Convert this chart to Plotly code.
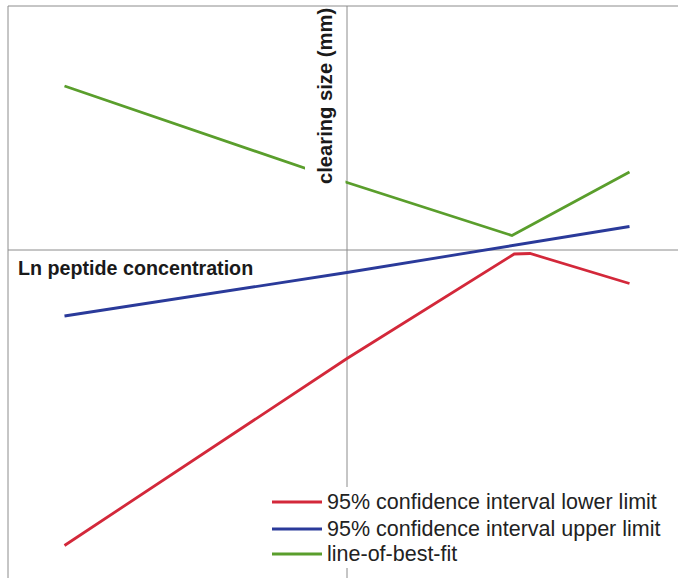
import plotly.graph_objects as go

# ---- data ----
series_names = ["95% confidence interval lower limit",
                "95% confidence interval upper limit",
                "line-of-best-fit"]
series_colors = ["#d3283a", "#2a3a9a", "#5a9e2c"]

x_lower = [-2.5, 0.0, 1.48, 1.62, 2.5]
y_lower = [-5.91, -2.17, -0.08, -0.07, -0.67]

x_upper = [-2.5, 0.0, 2.5]
y_upper = [-1.32, -0.45, 0.47]

x_fit = [-2.5, 0.0, 1.46, 2.5]
y_fit = [3.28, 1.35, 0.29, 1.56]

x_title = "Ln peptide concentration"
y_title = "clearing size (mm)"

# ---- layout helpers ----
W, H = 678, 578
X0_PX, PX_PER_X = 347, 113.0
Y0_PX, PX_PER_Y = 250, 50.0
x_range = [(0 - X0_PX) / PX_PER_X, (W - X0_PX) / PX_PER_X]
y_range = [(Y0_PX - H) / PX_PER_Y, Y0_PX / PX_PER_Y]


def px(x):
    return x / W


def py(y):
    return 1 - y / H


fig = go.Figure()
for xs, ys, name, col in zip([x_lower, x_upper, x_fit],
                             [y_lower, y_upper, y_fit],
                             series_names, series_colors):
    fig.add_trace(go.Scatter(x=xs, y=ys, mode="lines", name=name,
                             line=dict(color=col, width=2.8),
                             showlegend=False))

axis_col = "#8c8c8c"
shapes = [
    # frame (top and left; right/bottom fall outside the picture)
    dict(type="line", xref="paper", yref="paper", x0=px(8), x1=1, y0=py(6), y1=py(6),
         line=dict(color=axis_col, width=1), layer="below"),
    dict(type="line", xref="paper", yref="paper", x0=px(8), x1=px(8), y0=0, y1=py(6),
         line=dict(color=axis_col, width=1), layer="below"),
    # axes through origin
    dict(type="line", xref="x", yref="paper", x0=0, x1=0, y0=0, y1=py(6),
         line=dict(color=axis_col, width=1), layer="below"),
    dict(type="line", xref="paper", yref="y", x0=px(8), x1=1, y0=0, y1=0,
         line=dict(color=axis_col, width=1), layer="below"),
    # white box behind the y-axis title
    dict(type="rect", xref="paper", yref="paper", x0=px(305), x1=px(345.5),
         y0=py(190), y1=py(150), fillcolor="white", line=dict(width=0), layer="above"),
    # legend background
    dict(type="rect", xref="paper", yref="paper", x0=px(265), x1=px(672),
         y0=py(568), y1=py(487), fillcolor="white", line=dict(width=0), layer="above"),
]

legend_rows = [502, 529, 554]
annotations = []
for name, col, row in zip(series_names, series_colors, legend_rows):
    shapes.append(dict(type="line", xref="paper", yref="paper", x0=px(272), x1=px(322),
                       y0=py(row), y1=py(row), line=dict(color=col, width=3), layer="above"))
    annotations.append(dict(xref="paper", yref="paper", x=px(325), y=py(row - 0.5),
                            xanchor="left", yanchor="middle", showarrow=False, text=name,
                            font=dict(family="Liberation Sans, Arial, sans-serif",
                                      size=21.5, color="#222222")))

annotations.append(dict(xref="paper", yref="paper", x=px(16), y=py(268),
                        xanchor="left", yanchor="middle", showarrow=False,
                        text="<b>" + x_title + "</b>",
                        font=dict(family="Liberation Sans, Arial, sans-serif",
                                  size=19.7, color="#1a1a1a")))
annotations.append(dict(xref="paper", yref="paper", x=px(324.5), y=py(96.5),
                        xanchor="center", yanchor="middle", showarrow=False,
                        textangle=-90, text="<b>" + y_title + "</b>",
                        font=dict(family="Liberation Sans, Arial, sans-serif",
                                  size=20.2, color="#1a1a1a")))

fig.update_layout(
    width=W, height=H,
    margin=dict(l=0, r=0, t=0, b=0),
    paper_bgcolor="white", plot_bgcolor="white",
    xaxis=dict(range=x_range, showgrid=False, zeroline=False, showticklabels=False,
               ticks="", showline=False, fixedrange=True),
    yaxis=dict(range=y_range, showgrid=False, zeroline=False, showticklabels=False,
               ticks="", showline=False, fixedrange=True),
    shapes=shapes,
    annotations=annotations,
    showlegend=False,
)

fig.write_html("out.html")
